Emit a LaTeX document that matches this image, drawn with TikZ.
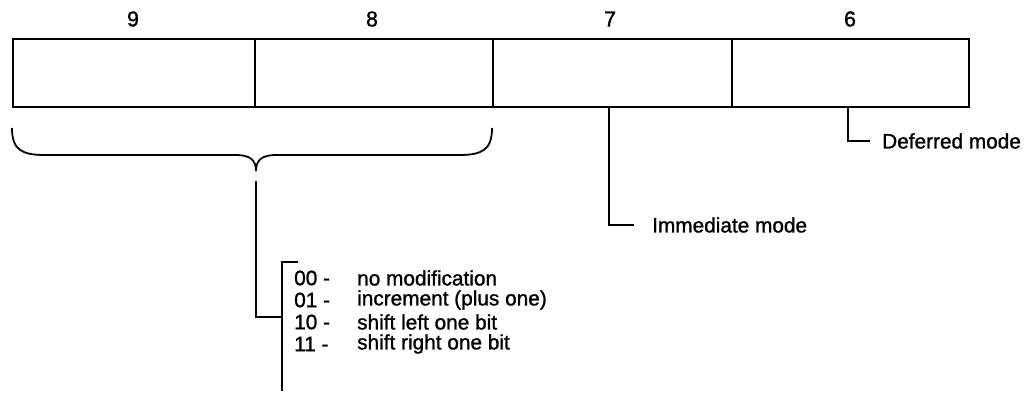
\documentclass[tikz,border=0pt]{standalone}
\usepackage{fontspec}
\setmainfont{Liberation Sans}
\newfontfamily\lblfont{Liberation Sans}[FakeBold=1.2]
\begin{document}
\begin{tikzpicture}[x=1pt,y=-1pt,
  cell/.style={draw,line width=1.8pt,minimum height=68pt,inner sep=0pt,anchor=north west},
  bitno/.style={font=\lblfont\fontsize{21.5}{22}\selectfont},
  lbl/.style={font=\lblfont\fontsize{20.8}{22}\selectfont,anchor=west,inner sep=0pt},
  wire/.style={line width=1.8pt}]
\useasboundingbox (0,0) rectangle (1027,393);
% instruction field cells, bits 9 to 6
\node[cell,minimum width=242pt] (b9) at (12,38) {};
\node[cell,minimum width=238pt] (b8) at (254,38) {};
\node[cell,minimum width=239pt] (b7) at (492,38) {};
\node[cell,minimum width=237pt] (b6) at (731,38) {};
% bit numbers
\node[bitno] (n9) at (133,19) {9};
\node[bitno] (n8) at (372,19) {8};
\node[bitno] (n7) at (610,19) {7};
\node[bitno] (n6) at (850,19) {6};
% brace under bits 9 and 8
\coordinate (tip) at (256,171);
\draw[wire] (12,128) .. controls (12,150) and (22,155) .. (45,155)
  -- (236,155) .. controls (250,155) and (256,160) .. (tip)
  .. controls (256,160) and (262,155) .. (276,155)
  -- (459,155) .. controls (482,155) and (492,150) .. (492,128);
% bracket for modification codes
\coordinate (brtop) at (282,262);
\coordinate (brbot) at (282,391);
\coordinate (brtick) at (298,262);
\coordinate (brjoin) at (282,317);
\draw[wire] (256,181) |- (brjoin);
\draw[wire] (brtick) -- (brtop) -- (brbot);
\node[lbl] (c00) at (294,278) {00 -};
\node[lbl] (c01) at (294,300) {01 -};
\node[lbl] (c10) at (294,322) {10 -};
\node[lbl] (c11) at (294,344) {11 -};
\node[lbl] (d00) at (357,278) {no modification};
\node[lbl] (d01) at (357,300) {increment (plus one)};
\node[lbl] (d10) at (357,322) {shift left one bit};
\node[lbl] (d11) at (357,344) {shift right one bit};
% mode bits
\node[lbl] (imm) at (652,225) {Immediate mode};
\node[lbl] (def) at (882,141) {Deferred mode};
\draw[wire] (b7.south west -| 609,0) |- ([xshift=-18pt]imm.west);
\draw[wire] (b6.south west -| 848,0) |- ([xshift=-12pt]def.west);
\end{tikzpicture}
\end{document}
